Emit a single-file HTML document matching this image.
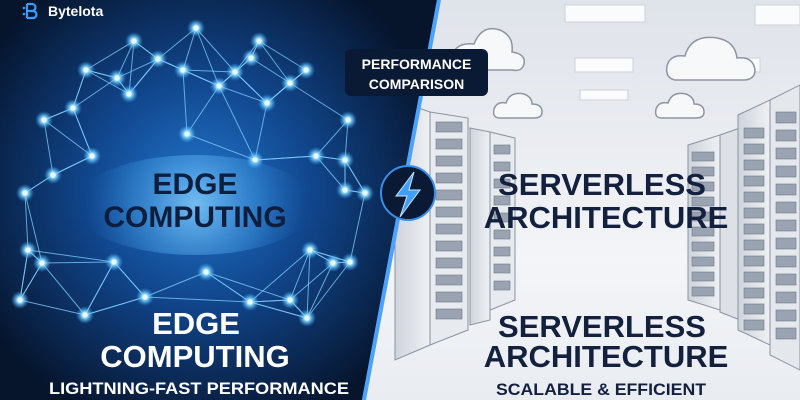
<!DOCTYPE html>
<html><head><meta charset="utf-8"><style>
html,body{margin:0;padding:0;width:800px;height:400px;overflow:hidden;background:#0a1a3a}
svg{display:block}
text{font-family:"Liberation Sans",sans-serif;font-weight:bold}
</style></head><body>
<svg id="s" width="800" height="400" viewBox="0 0 800 400" xmlns="http://www.w3.org/2000/svg">
<defs>
<radialGradient id="lg" cx="200" cy="190" r="250" gradientUnits="userSpaceOnUse">
<stop offset="0" stop-color="#2275cc"/><stop offset="0.45" stop-color="#11468c"/><stop offset="1" stop-color="#06142c"/>
</radialGradient>
<radialGradient id="tg" cx="195" cy="205" r="110" gradientUnits="userSpaceOnUse">
<stop offset="0" stop-color="#8fd6ff" stop-opacity="0.75"/><stop offset="0.6" stop-color="#4aa8f0" stop-opacity="0.35"/><stop offset="1" stop-color="#2a80d8" stop-opacity="0"/>
</radialGradient>
<linearGradient id="rg" x1="0" y1="0" x2="0" y2="1">
<stop offset="0" stop-color="#dfe3ea"/><stop offset="0.5" stop-color="#eef0f4"/><stop offset="0.65" stop-color="#f3f5f8"/><stop offset="1" stop-color="#e9ecf1"/>
</linearGradient>
<radialGradient id="glow"><stop offset="0" stop-color="#ffffff"/><stop offset="0.3" stop-color="#9fe2ff"/><stop offset="1" stop-color="#2aa8ff" stop-opacity="0"/></radialGradient>
<linearGradient id="rack" x1="0" y1="0" x2="1" y2="0"><stop offset="0" stop-color="#cfd4dc"/><stop offset="1" stop-color="#eef0f3"/></linearGradient>
</defs>
<rect width="800" height="400" fill="url(#rg)"/>
<g fill="#fafbfc" stroke="#cdd2da">
<rect x="565" y="5" width="80" height="17"/><rect x="575" y="58" width="58" height="14"/><rect x="580" y="90" width="48" height="10"/>
<rect x="755" y="5" width="45" height="20"/><rect x="700" y="58" width="60" height="14"/>
</g>
<g fill="#f7f8fa" stroke="#8e96a4" stroke-width="1.5">
<path d="M675 80 q-10 -2 -8 -14 q3 -12 18 -10 q6 -22 32 -18 q18 3 20 20 q16 -2 18 12 q0 10 -12 10 z"/>
<path d="M662 118 q-8 0 -6 -9 q3 -8 12 -6 q4 -12 18 -9 q8 3 8 10 q10 0 10 8 q0 6 -8 6 z"/>
<path d="M500 118 q-8 0 -6 -9 q3 -8 12 -6 q4 -12 18 -9 q8 3 8 10 q10 0 10 8 q0 6 -8 6 z"/>
<path d="M460 70 q-10 0 -8 -14 q4 -14 22 -12 q8 -20 26 -14 q14 6 12 22 q14 2 12 12 q-2 8 -12 6 z"/>
</g>
<g stroke="#8a93a2" stroke-width="1">
<polygon points="688,145 720,135 720,310 688,300" fill="url(#rack)"/>
<polygon points="720,135 740,128 740,320 720,312" fill="#dde1e7"/>
<polygon points="738,115 770,100 770,345 738,330" fill="url(#rack)"/>
<polygon points="770,100 800,85 800,370 770,355" fill="#e4e7ec"/>
</g>
<g id="rslots" fill="#9aa3b1" stroke="#6f7888" stroke-width="0.6"></g>
<g stroke="#8a93a2" stroke-width="1">
<polygon points="395,100 430,112 430,345 395,360" fill="url(#rack)"/>
<polygon points="430,112 468,118 468,330 430,345" fill="#e7eaee"/>
<polygon points="470,128 490,132 490,320 470,325" fill="url(#rack)"/>
<polygon points="490,132 515,138 515,300 490,310" fill="#e7eaee"/>
</g>
<g id="lslots" fill="#9aa3b1" stroke="#6f7888" stroke-width="0.6"></g>
<polygon points="0,0 437,0 362,400 0,400" fill="url(#lg)"/>
<polygon points="437,0 441,0 366,400 362,400" fill="#4aa3ff"/>
<g id="net"></g>
<ellipse cx="195" cy="205" rx="120" ry="50" fill="url(#tg)"/>
<!-- logo -->
<g fill="none" stroke="#3b9cff" stroke-width="2.2"><path d="M27 4 h5 a3.5 3.5 0 0 1 0 7 h-5 M27 11 h6 a3.5 3.5 0 0 1 0 7 h-6 M27 4 v14"/></g>
<circle cx="24" cy="8" r="1.3" fill="#3b9cff"/><circle cx="24" cy="14" r="1.3" fill="#3b9cff"/>
<text x="48" y="16" font-size="14" fill="#ffffff">Bytelota</text>
<rect x="345" y="49" width="143" height="47" rx="6" fill="#0b1a34"/>
<text x="416.5" y="69" font-size="14" fill="#fff" text-anchor="middle">PERFORMANCE</text>
<text x="416.5" y="89" font-size="14" fill="#fff" text-anchor="middle">COMPARISON</text>
<circle cx="408" cy="193" r="27" fill="#0b1a34" stroke="#3b8ee8" stroke-width="2"/>
<path d="M414 172 L396 196 L407 196 L400 217 L420 190 L409 190 Z" fill="#3fa0ff" stroke="#cde6ff" stroke-width="1"/>
<g fill="#0d1e3e" text-anchor="middle" font-size="30">
<text x="195" y="194">EDGE</text><text x="195" y="227">COMPUTING</text>
</g>
<g fill="#ffffff" text-anchor="middle" font-size="31">
<text x="196" y="334">EDGE</text><text x="195" y="367">COMPUTING</text>
<text x="199" y="394" font-size="17" textLength="300" lengthAdjust="spacingAndGlyphs">LIGHTNING-FAST PERFORMANCE</text>
</g>
<g fill="#13213f" text-anchor="middle" font-size="31">
<text x="602" y="195">SERVERLESS</text><text x="606" y="228">ARCHITECTURE</text>
<text x="602" y="337">SERVERLESS</text><text x="606" y="367">ARCHITECTURE</text>
<text x="601" y="395" font-size="17" textLength="210" lengthAdjust="spacingAndGlyphs">SCALABLE &amp; EFFICIENT</text>
</g>
</svg>
<script>
var NS="http://www.w3.org/2000/svg";
function el(t,a,p){var e=document.createElementNS(NS,t);for(var k in a)e.setAttribute(k,a[k]);p.appendChild(e);return e;}
var rs=document.getElementById('rslots');
for(var i=0;i<13;i++){el('rect',{x:744,y:128+i*16,width:20,height:10},rs);el('rect',{x:776,y:112+i*18,width:20,height:11},rs);}
for(var i=0;i<10;i++){el('rect',{x:692,y:152+i*15,width:22,height:9},rs);}
var ls=document.getElementById('lslots');
for(var i=0;i<12;i++){el('rect',{x:436,y:122+i*17,width:26,height:10},ls);}
for(var i=0;i<9;i++){el('rect',{x:494,y:145+i*17,width:16,height:9},ls);}
var P=[[196,28],[134,41],[259,41],[158,59],[251,58],[86,70],[306,70],[183,70],[235,72],[129,94],[267,103],[73,108],[44,120],[187,134],[92,156],[348,120],[53,175],[25,193],[316,156],[255,160],[219,86],[117,78],[290,83],[345,160],[365,193],[42,263],[114,262],[206,272],[290,300],[333,263],[145,297],[250,302],[28,250],[310,250],[350,262],[85,315],[20,300],[307,318],[345,190]];
var n=document.getElementById('net');
for(var i=0;i<P.length;i++){var d=[];for(var j=0;j<P.length;j++)if(j!=i)d.push([Math.hypot(P[i][0]-P[j][0],P[i][1]-P[j][1]),j]);d.sort(function(a,b){return a[0]-b[0]});
for(var k=0;k<4;k++){var j=d[k][1];if(j>i||k<2)el('line',{x1:P[i][0],y1:P[i][1],x2:P[j][0],y2:P[j][1],stroke:'#7fd0ff','stroke-width':1,'stroke-opacity':0.75},n);}}
for(var i=0;i<P.length;i++){el('circle',{cx:P[i][0],cy:P[i][1],r:9,fill:'url(#glow)'},n);el('circle',{cx:P[i][0],cy:P[i][1],r:2.6,fill:'#eaf8ff'},n);}
</script>
</body></html>
